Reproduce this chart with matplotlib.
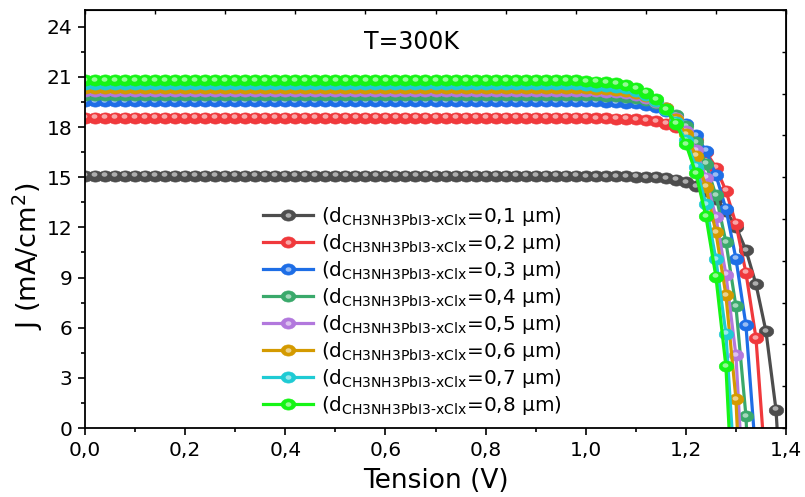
import numpy as np
import matplotlib
matplotlib.use('Agg')
import matplotlib.pyplot as plt
from matplotlib.path import Path
from matplotlib.transforms import offset_copy
from matplotlib.legend_handler import HandlerTuple
from matplotlib.ticker import MultipleLocator, FuncFormatter

# tension (V), one point every 20 mV
voltage = [0.00, 0.02, 0.04, 0.06, 0.08, 0.10, 0.12, 0.14, 0.16, 0.18,
           0.20, 0.22, 0.24, 0.26, 0.28, 0.30, 0.32, 0.34, 0.36, 0.38,
           0.40, 0.42, 0.44, 0.46, 0.48, 0.50, 0.52, 0.54, 0.56, 0.58,
           0.60, 0.62, 0.64, 0.66, 0.68, 0.70, 0.72, 0.74, 0.76, 0.78,
           0.80, 0.82, 0.84, 0.86, 0.88, 0.90, 0.92, 0.94, 0.96, 0.98,
           1.00, 1.02, 1.04, 1.06, 1.08, 1.10, 1.12, 1.14, 1.16, 1.18,
           1.20, 1.22, 1.24, 1.26, 1.28, 1.30, 1.32, 1.34, 1.36, 1.38,
           1.40]

# J (mA/cm2) for each absorber thickness
j_01 = [15.08, 15.08, 15.08, 15.08, 15.08, 15.08, 15.08, 15.08, 15.08, 15.08,
        15.08, 15.08, 15.08, 15.08, 15.08, 15.08, 15.08, 15.08, 15.08, 15.08,
        15.08, 15.08, 15.08, 15.08, 15.08, 15.08, 15.08, 15.08, 15.08, 15.08,
        15.08, 15.08, 15.08, 15.08, 15.08, 15.08, 15.08, 15.08, 15.08, 15.08,
        15.08, 15.08, 15.08, 15.08, 15.08, 15.08, 15.08, 15.08, 15.08, 15.08,
        15.07, 15.07, 15.07, 15.06, 15.05, 15.03, 15.01, 14.99, 14.94, 14.85,
        14.70, 14.48, 14.17, 13.68, 13.00, 12.04, 10.65, 8.60, 5.78, 1.09,
        -8.70]
j_02 = [18.55, 18.55, 18.55, 18.55, 18.55, 18.55, 18.55, 18.55, 18.55, 18.55,
        18.55, 18.55, 18.55, 18.55, 18.55, 18.55, 18.55, 18.55, 18.55, 18.55,
        18.55, 18.55, 18.55, 18.55, 18.55, 18.55, 18.55, 18.55, 18.55, 18.55,
        18.55, 18.55, 18.55, 18.55, 18.55, 18.55, 18.55, 18.55, 18.55, 18.55,
        18.55, 18.55, 18.55, 18.55, 18.55, 18.55, 18.55, 18.55, 18.55, 18.55,
        18.55, 18.54, 18.52, 18.51, 18.49, 18.46, 18.42, 18.34, 18.21, 17.98,
        17.68, 17.21, 16.53, 15.58, 14.19, 12.21, 9.28, 5.38, -2.78]
j_03 = [19.55, 19.55, 19.55, 19.55, 19.55, 19.55, 19.55, 19.55, 19.55, 19.55,
        19.55, 19.55, 19.55, 19.55, 19.55, 19.55, 19.55, 19.55, 19.55, 19.55,
        19.55, 19.55, 19.55, 19.55, 19.55, 19.55, 19.55, 19.55, 19.55, 19.55,
        19.55, 19.55, 19.55, 19.55, 19.55, 19.55, 19.55, 19.55, 19.55, 19.55,
        19.55, 19.55, 19.55, 19.55, 19.55, 19.55, 19.55, 19.55, 19.55, 19.55,
        19.54, 19.53, 19.51, 19.49, 19.46, 19.42, 19.34, 19.21, 18.98, 18.67,
        18.20, 17.50, 16.59, 15.13, 13.11, 10.13, 6.14, -1.76]
j_04 = [19.94, 19.94, 19.94, 19.94, 19.94, 19.94, 19.94, 19.94, 19.94, 19.94,
        19.94, 19.94, 19.94, 19.94, 19.94, 19.94, 19.94, 19.94, 19.94, 19.94,
        19.94, 19.94, 19.94, 19.94, 19.94, 19.94, 19.94, 19.94, 19.94, 19.94,
        19.94, 19.94, 19.94, 19.94, 19.94, 19.94, 19.94, 19.94, 19.94, 19.94,
        19.94, 19.94, 19.94, 19.94, 19.94, 19.94, 19.94, 19.94, 19.94, 19.94,
        19.92, 19.90, 19.88, 19.85, 19.81, 19.75, 19.63, 19.42, 19.13, 18.70,
        18.04, 17.11, 15.81, 13.92, 11.13, 7.28, 0.72, -12.8]
j_05 = [20.18, 20.18, 20.18, 20.18, 20.18, 20.18, 20.18, 20.18, 20.18, 20.18,
        20.18, 20.18, 20.18, 20.18, 20.18, 20.18, 20.18, 20.18, 20.18, 20.18,
        20.18, 20.18, 20.18, 20.18, 20.18, 20.18, 20.18, 20.18, 20.18, 20.18,
        20.18, 20.18, 20.18, 20.18, 20.18, 20.18, 20.18, 20.18, 20.18, 20.18,
        20.18, 20.18, 20.18, 20.18, 20.18, 20.18, 20.18, 20.18, 20.18, 20.18,
        20.15, 20.13, 20.11, 20.08, 20.03, 19.92, 19.76, 19.49, 19.13, 18.57,
        17.76, 16.63, 14.97, 12.59, 9.18, 4.34, -6.46]
j_06 = [20.35, 20.35, 20.35, 20.35, 20.35, 20.35, 20.35, 20.35, 20.35, 20.35,
        20.35, 20.35, 20.35, 20.35, 20.35, 20.35, 20.35, 20.35, 20.35, 20.35,
        20.35, 20.35, 20.35, 20.35, 20.35, 20.35, 20.35, 20.35, 20.35, 20.35,
        20.35, 20.35, 20.35, 20.35, 20.35, 20.35, 20.35, 20.35, 20.35, 20.35,
        20.35, 20.35, 20.35, 20.35, 20.35, 20.35, 20.35, 20.35, 20.35, 20.35,
        20.31, 20.29, 20.26, 20.22, 20.16, 20.04, 19.84, 19.56, 19.13, 18.48,
        17.56, 16.28, 14.43, 11.70, 7.94, 1.73, -11.2]
j_07 = [20.55, 20.55, 20.55, 20.55, 20.55, 20.55, 20.55, 20.55, 20.55, 20.55,
        20.55, 20.55, 20.55, 20.55, 20.55, 20.55, 20.55, 20.55, 20.55, 20.55,
        20.55, 20.55, 20.55, 20.55, 20.55, 20.55, 20.55, 20.55, 20.55, 20.55,
        20.55, 20.55, 20.55, 20.55, 20.55, 20.55, 20.55, 20.55, 20.55, 20.55,
        20.55, 20.55, 20.55, 20.55, 20.55, 20.55, 20.55, 20.55, 20.55, 20.55,
        20.50, 20.48, 20.45, 20.40, 20.31, 20.17, 19.92, 19.58, 19.04, 18.31,
        17.20, 15.63, 13.38, 10.09, 5.65, -3.78]
j_08 = [20.80, 20.80, 20.80, 20.80, 20.80, 20.80, 20.80, 20.80, 20.80, 20.80,
        20.80, 20.80, 20.80, 20.80, 20.80, 20.80, 20.80, 20.80, 20.80, 20.80,
        20.80, 20.80, 20.80, 20.80, 20.80, 20.80, 20.80, 20.80, 20.80, 20.80,
        20.80, 20.80, 20.80, 20.80, 20.80, 20.80, 20.80, 20.80, 20.80, 20.80,
        20.80, 20.80, 20.80, 20.80, 20.80, 20.80, 20.80, 20.80, 20.80, 20.80,
        20.75, 20.72, 20.69, 20.63, 20.52, 20.34, 20.06, 19.67, 19.06, 18.20,
        16.99, 15.23, 12.67, 9.05, 3.68, -8.15]

thickness = ['0,1', '0,2', '0,3', '0,4', '0,5', '0,6', '0,7', '0,8']
curves = [j_01, j_02, j_03, j_04, j_05, j_06, j_07, j_08]
colors = ['#4d4d4d', '#f0393c', '#1e6ee6', '#3aa96b',
          '#b278dd', '#d49a00', '#1fcbd4', '#16f516']

plt.rcParams['font.family'] = 'DejaVu Sans'
plt.rcParams['mathtext.fontset'] = 'dejavusans'

fig = plt.figure(figsize=(8.05, 4.97), dpi=100)
ax = fig.add_axes([85/805, 69/497, 701/805, 418/497])

# slightly flattened marker (the picture is stretched horizontally)
t = np.linspace(0, 2*np.pi, 61)
ellipse = Path(np.column_stack([1.3*np.cos(t), np.sin(t)]))
shine = offset_copy(ax.transData, fig=fig, x=-0.6, y=1.0, units='points')

handles = []
labels = []
for j, c, d in zip(curves, colors, thickness):
    v = voltage[:len(j)]
    ln, = ax.plot(v, j, color=c, lw=2.3, marker=ellipse, ms=10.5,
                  mfc=c, mec=c, mew=0.4)
    hl, = ax.plot(v, j, ls='none', marker=ellipse, ms=4.2, mfc='white',
                  mec='none', alpha=0.55, transform=shine)
    handles.append((ln, hl))
    labels.append(r'(d$_{\mathregular{CH3NH3PbI3‐xClx}}$=' + d + ' μm)')

ax.set_xlim(0, 1.4)
ax.set_ylim(0, 25)
ax.xaxis.set_major_locator(MultipleLocator(0.2))
ax.xaxis.set_minor_locator(MultipleLocator(0.1))
ax.yaxis.set_major_locator(MultipleLocator(3))
ax.yaxis.set_minor_locator(MultipleLocator(1.5))
ax.xaxis.set_major_formatter(FuncFormatter(lambda x, p: f'{x:.1f}'.replace('.', ',')))
ax.tick_params(which='major', direction='out', length=5, width=1.2,
               labelsize=14.5, pad=4)
ax.tick_params(which='minor', direction='out', length=3, width=1.2)
for s in ax.spines.values():
    s.set_linewidth(1.3)

# unlabeled ticks on the opposite sides
top = ax.secondary_xaxis('top')
top.set_xticks(np.linspace(0, 1.4, 11))
top.tick_params(direction='in', length=3, width=1, labeltop=False)
right = ax.secondary_yaxis('right')
right.set_yticks(np.linspace(0, 25, 11))
right.tick_params(direction='in', length=3, width=1, labelright=False)

ax.set_xlabel('Tension (V)', fontsize=19, labelpad=6)
ax.set_ylabel('J (mA/cm$^2$)', fontsize=19.5)
ax.yaxis.set_label_coords(-0.057, 0.41)
ax.text(0.466, 0.923, 'T=300K', transform=ax.transAxes, fontsize=17,
        ha='center', va='center')

ax.legend(handles, labels, handler_map={tuple: HandlerTuple(ndivide=1)},
          loc='upper left', bbox_to_anchor=(0.2397, 0.557), frameon=False,
          fontsize=14.4, borderpad=0, handlelength=2.5, handletextpad=0.4,
          labelspacing=0.2)

fig.savefig('out.png', dpi=100)
